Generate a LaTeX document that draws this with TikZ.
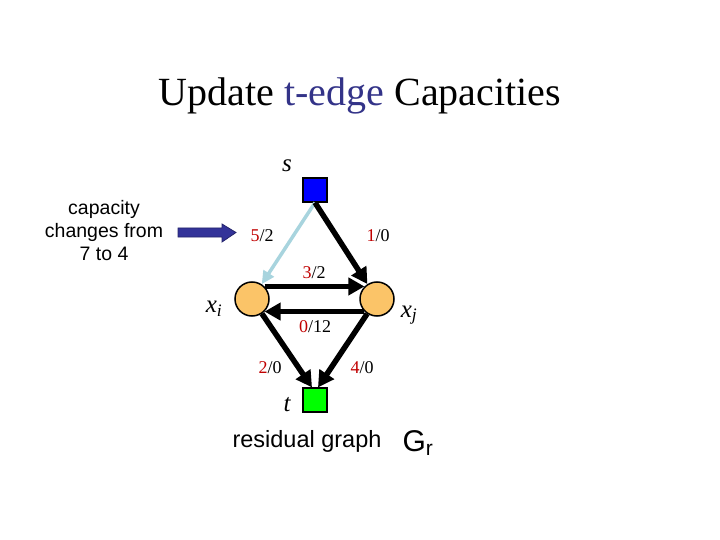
\documentclass[tikz,border=0pt]{standalone}
\usepackage{fontspec}
\setmainfont{Liberation Serif}
\setsansfont{Liberation Sans}
\usetikzlibrary{arrows.meta}
\definecolor{capred}{HTML}{C00000}
\definecolor{titleblue}{HTML}{333388}
\definecolor{arrowblue}{HTML}{333399}
\definecolor{lightedge}{HTML}{A8D4DE}
\definecolor{nodeorange}{HTML}{FBC468}
\tikzset{
    flowedge/.style={line width=5.5pt, -{Triangle[length=16pt,width=17pt]}},
    thinedge/.style={line width=3.5pt, -{Triangle[length=13pt,width=12pt]}},
    sqnode/.style={draw, line width=1.2pt, minimum size=24pt, inner sep=0pt},
    circnode/.style={circle, draw, line width=1.5pt, fill=nodeorange, minimum size=34pt, inner sep=0pt},
    caplabel/.style={font=\fontsize{18}{18}\selectfont},
    varlabel/.style={font=\fontsize{25}{25}\selectfont\itshape}
}
\newcommand{\edgecap}[2]{\textcolor{capred}{#1}/#2}
\begin{document}
\begin{tikzpicture}[x=1pt, y=-1pt]
    \useasboundingbox (0,0) rectangle (720,540);

    % Titulo
    \node[font=\fontsize{40}{40}\selectfont] (title) at (360,96)
        {Update \textcolor{titleblue}{t-edge} Capacities};

    % Nodos del grafo
    \node[sqnode, fill=blue] (s) at (315,190) {};
    \node[sqnode, fill=green] (t) at (315,400) {};
    \node[circnode] (xi) at (252,299) {};
    \node[circnode] (xj) at (377,299) {};

    % Nombres de los nodos
    \node[varlabel] (slab) at (287,166) {s};
    \node[varlabel] (tlab) at (287,405) {t};
    \node[varlabel] (xilab) at (214,309) {x\textsubscript{i}};
    \node[varlabel] (xjlab) at (409,315) {x\textsubscript{j}};

    % Aristas residuales
    \draw[thinedge, lightedge] (s.south) -- (xi);
    \draw[flowedge] (s.south) -- (xj);
    \draw[flowedge] (xi.45) -- (xj.135);
    \draw[flowedge] (xj.-135) -- (xi.-45);
    \draw[flowedge] (xi) -- ([xshift=-3pt]t.north);
    \draw[flowedge] (xj) -- ([xshift=3pt]t.north);

    % Capacidades
    \node[caplabel] (c1) at (262,236) {\edgecap{5}{2}};
    \node[caplabel] (c2) at (378,236) {\edgecap{1}{0}};
    \node[caplabel] (c3) at (314,273) {\edgecap{3}{2}};
    \node[caplabel] (c4) at (315,327) {\edgecap{0}{12}};
    \node[caplabel] (c5) at (270,368) {\edgecap{2}{0}};
    \node[caplabel] (c6) at (362,368) {\edgecap{4}{0}};

    % Nota a la izquierda con flecha gruesa
    \node[font=\sffamily\fontsize{19.5}{23}\selectfont, align=center] (note) at (104,231)
        {capacity\\changes from\\7 to 4};
    \draw[fill=arrowblue, draw=arrowblue!70!black, line width=0.8pt]
        (178,228) -- (222,228) -- (222,224) -- (236,232.5) -- (222,242)
        -- (222,237) -- (178,237) -- cycle;

    % Pie
    \node[font=\sffamily\fontsize{23.5}{23.5}\selectfont] (res) at (307,441) {residual graph};
    \node[font=\sffamily\fontsize{30}{30}\selectfont] (gr) at (418,443) {G\textsubscript{r}};
\end{tikzpicture}
\end{document}
